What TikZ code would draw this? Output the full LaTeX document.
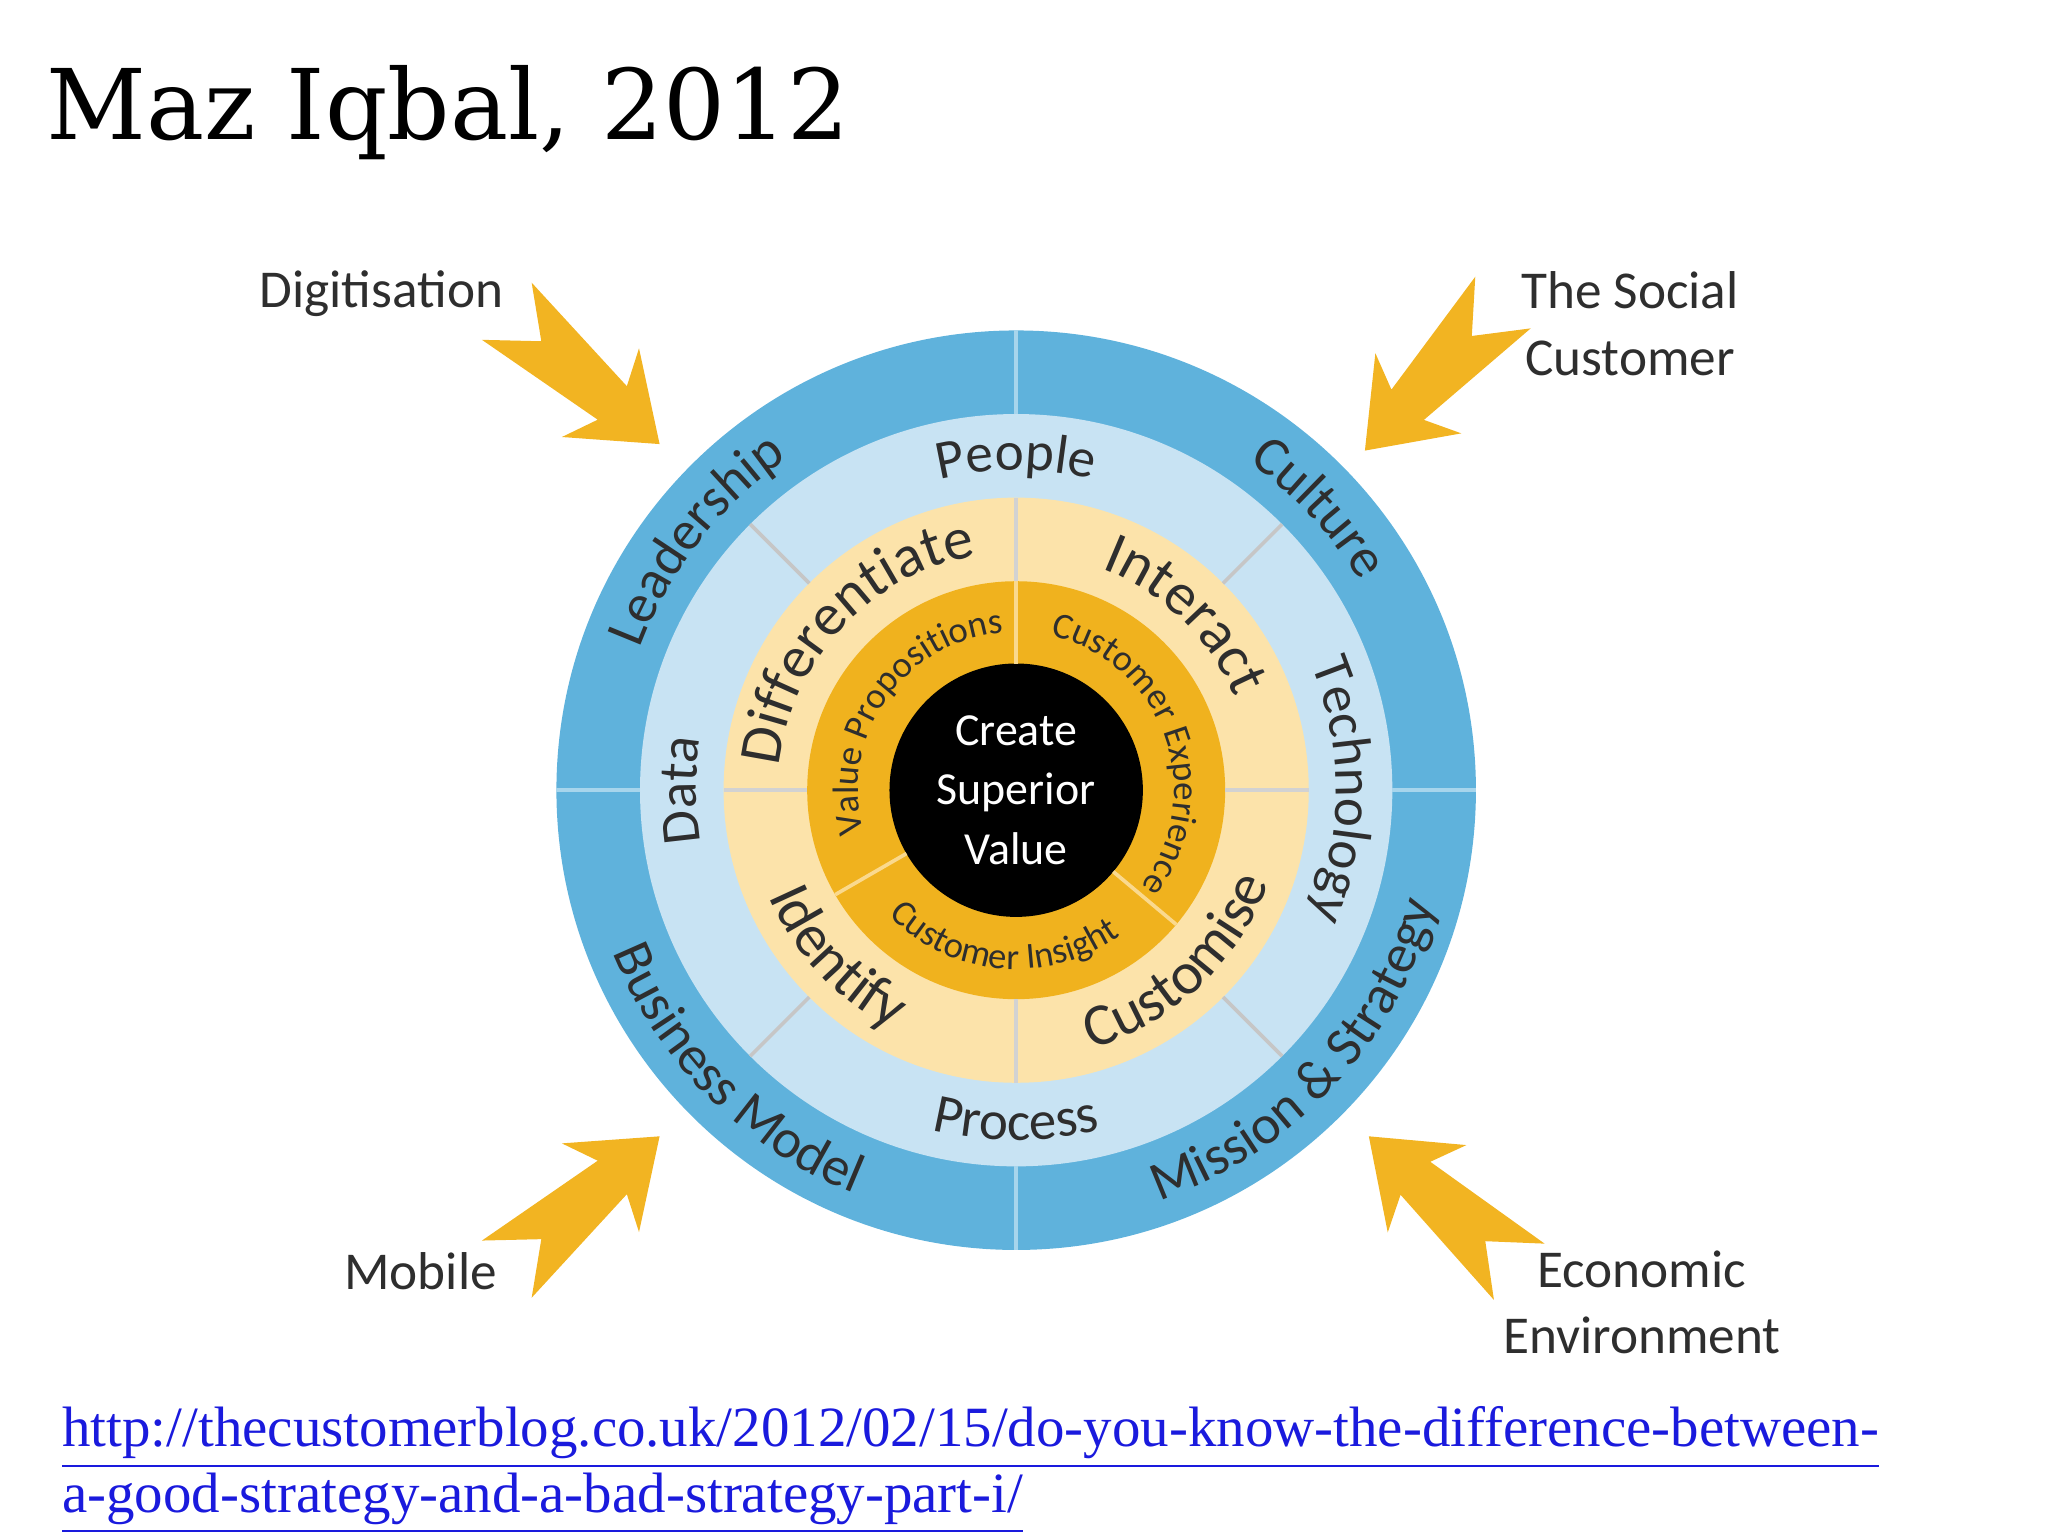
\documentclass[tikz,border=0pt]{standalone}
\usepackage{fontspec}
\setmainfont{Liberation Serif}
\newfontfamily\cf{Carlito}
\newfontfamily\tf{DejaVu Serif}
\usetikzlibrary{decorations.text}
\definecolor{oblue}{HTML}{5FB2DC}
\definecolor{lblue}{HTML}{C8E3F3}
\definecolor{lyel}{HTML}{FCE3AA}
\definecolor{oran}{HTML}{F0B21E}
\definecolor{arr}{HTML}{F2B422}
\definecolor{txt}{HTML}{2E2E2E}
\definecolor{lnk}{HTML}{1A1ADD}
\newcommand\arclabel[5]{\path[decorate,decoration={text along path,text align=center,text color=txt,text={|#4|#5}}] (C) ++(#2:#1) arc[start angle=#2,end angle=#3,radius=#1];}
\tikzset{lbl/.style={font=\cf\fontsize{11.6}{14.5}\selectfont,text=txt,align=center},
 divline/.style={line width=0.8pt}}
\newcommand\arrowshape{(0,0) -- (-0.60,0.45) -- (-0.48,0.17) -- (-1.55,0.29) -- (-1.20,0) -- (-1.55,-0.29) -- (-0.48,-0.17) -- (-0.60,-0.45) -- cycle}
\begin{document}
\begin{tikzpicture}
\useasboundingbox (0,0) rectangle (15.68,-11.76);
\coordinate (C) at (7.78,-6.05);
\node[anchor=base west,inner sep=0] (title) at (0.35,-1.07) {\resizebox{6.15cm}{!}{\tf Maz Iqbal, 2012}};
% rings
\fill[oblue] (C) circle[radius=3.52cm];
\fill[lblue] (C) circle[radius=2.88cm];
\fill[lyel] (C) circle[radius=2.24cm];
\fill[oran] (C) circle[radius=1.60cm];
\fill[black] (C) circle[radius=0.97cm];
\foreach \a in {0,90,180,270}{\draw[divline,draw=oblue!55!white] (C) ++(\a:2.88cm) -- ++(\a:0.64cm);}
\foreach \a in {45,135,225,315}{\draw[divline,draw=gray!45] (C) ++(\a:2.24cm) -- ++(\a:0.64cm);}
\foreach \a in {0,90,180,270}{\draw[divline,draw=gray!35] (C) ++(\a:1.60cm) -- ++(\a:0.64cm);}
\foreach \a in {90,-150,-40}{\draw[divline,draw=lyel!80!oran] (C) ++(\a:0.97cm) -- ++(\a:0.63cm);}
% outer ring labels
\def\fa{\cf\fontsize{12}{14}\selectfont}
\arclabel{3.08cm}{200}{84}{\fa}{Leadership}
\arclabel{3.08cm}{100}{-14}{\fa}{Culture}
\arclabel{3.33cm}{-100}{14}{\fa}{Mission {\&} Strategy}
\arclabel{3.33cm}{-190}{-80}{\fa}{Business Model}
% light blue ring
\arclabel{2.45cm}{150}{30}{\fa}{People}
\arclabel{2.45cm}{60}{-60}{\fa}{Technology}
\arclabel{2.45cm}{240}{120}{\fa}{Data}
\arclabel{2.68cm}{-150}{-30}{\fa}{Process}
% yellow ring
\def\fb{\cf\fontsize{13}{15}\selectfont}
\arclabel{1.82cm}{197}{77}{\fb}{Differentiate}
\arclabel{1.82cm}{106}{-14}{\fb}{Interact}
\arclabel{2.06cm}{-107}{13}{\fb}{Customise}
\arclabel{2.06cm}{-197}{-77}{\fb}{Identify}
% orange ring
\def\fc{\cf\fontsize{8}{10}\selectfont}
\arclabel{1.21cm}{220}{70}{\fc}{Value Propositions}
\arclabel{1.21cm}{95}{-55}{\fc}{Customer Experience}
\arclabel{1.37cm}{-165}{-25}{\fc}{Customer Insight}
\node[lbl,text=white,font=\cf\fontsize{10}{13}\selectfont] (core) at (C) {Create\\Superior\\Value};
% arrows
\coordinate (tipD) at (5.05,-3.40);
\coordinate (tipS) at (10.45,-3.45);
\coordinate (tipM) at (5.05,-8.70);
\coordinate (tipE) at (10.48,-8.70);
\begin{scope}[shift={(tipD)},rotate=-41]\fill[arr] \arrowshape;\end{scope}
\begin{scope}[shift={(tipS)},rotate=-133]\fill[arr] \arrowshape;\end{scope}
\begin{scope}[shift={(tipM)},rotate=41]\fill[arr] \arrowshape;\end{scope}
\begin{scope}[shift={(tipE)},rotate=138]\fill[arr] \arrowshape;\end{scope}
\node[lbl] (dig) at (2.92,-2.25) {Digitisation};
\node[lbl] (soc) at (12.48,-2.48) {The Social\\Customer};
\node[lbl] (mob) at (3.22,-9.73) {Mobile};
\node[lbl] (eco) at (12.57,-9.97) {Economic\\Environment};
% link
\node[anchor=base west,inner sep=0,align=left,text=lnk,font=\fontsize{12.4}{13}\selectfont] (link) at (0.47,-11.58) {\underline{http://thecustomerblog.co.uk/2012/02/15/do-you-know-the-difference-between-}\\\underline{a-good-strategy-and-a-bad-strategy-part-i/}};
\end{tikzpicture}
\end{document}
